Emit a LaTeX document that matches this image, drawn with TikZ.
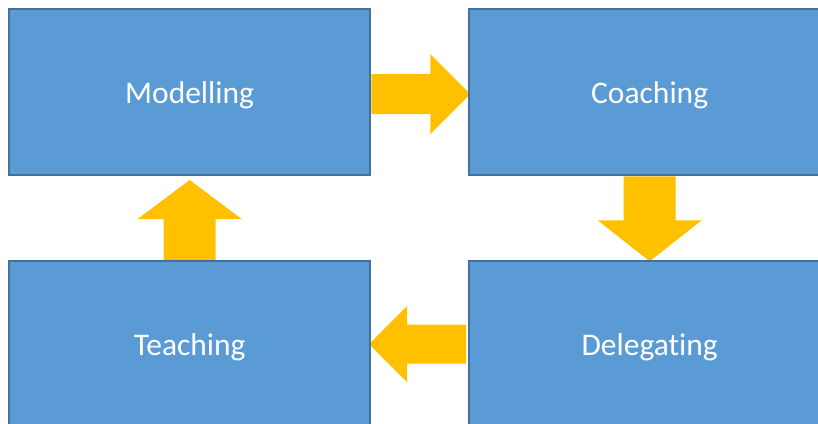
\documentclass[tikz,border=0pt]{standalone}
\usepackage{fontspec}
\setmainfont[Ligatures={NoCommon,NoRare,NoContextual}]{Carlito}
\usetikzlibrary{calc,backgrounds}
\definecolor{boxfill}{HTML}{5B9BD5}
\definecolor{boxline}{HTML}{41719C}
\definecolor{arrowfill}{HTML}{FFC000}
\newcommand{\stagetext}[1]{\raisebox{-3pt}[\height][\depth]{#1}}
\tikzset{
  stagebox/.style={draw=boxline, fill=boxfill, line width=2.3pt, rectangle,
    minimum width=361pt, minimum height=166pt, anchor=north west, inner sep=0pt,
    text=white, font=\fontsize{31.5}{36}\selectfont},
  blockarrow/.style={fill=arrowfill}
}
\begin{document}
\begin{tikzpicture}[x=1pt,y=-1pt]
\useasboundingbox (0,0) rectangle (818,423);
\clip (0,0) rectangle (818,423);
\node[stagebox] (m) at (8,8) {\stagetext{Modelling}};
\node[stagebox] (c) at (468,8) {\stagetext{Coaching}};
\node[stagebox] (t) at (8,260) {\stagetext{Teaching}};
\node[stagebox] (d) at (468,260) {\stagetext{Delegating}};
\begin{pgfonlayer}{background}
% Modelling -> Coaching
\coordinate (a1) at ($(m.east)+(0,2)$);
\fill[blockarrow] ($(a1)+(0,-20)$) -- ($(a1)+(59,-20)$) -- ($(a1)+(59,-40)$)
  -- ($(a1)+(99,0)$) -- ($(a1)+(59,40)$) -- ($(a1)+(59,20)$) -- ($(a1)+(0,20)$) -- cycle;
% Coaching -> Delegating
\coordinate (a2) at (c.south);
\fill[blockarrow] ($(a2)+(-26,0)$) -- ($(a2)+(26,0)$) -- ($(a2)+(26,44)$)
  -- ($(a2)+(52,44)$) -- ($(a2)+(0,85)$) -- ($(a2)+(-52,44)$) -- ($(a2)+(-26,44)$) -- cycle;
% Delegating -> Teaching
\coordinate (a3) at (d.west);
\fill[blockarrow] ($(a3)+(-2,-19.5)$) -- ($(a3)+(-2,19.5)$) -- ($(a3)+(-61,19.5)$)
  -- ($(a3)+(-61,38)$) -- ($(a3)+(-99,0)$) -- ($(a3)+(-61,-38)$) -- ($(a3)+(-61,-19.5)$) -- cycle;
% Teaching -> Modelling
\coordinate (a4) at (t.north);
\fill[blockarrow] ($(a4)+(-26,0)$) -- ($(a4)+(26,0)$) -- ($(a4)+(26,-41)$)
  -- ($(a4)+(52,-41)$) -- ($(a4)+(0,-80)$) -- ($(a4)+(-52,-41)$) -- ($(a4)+(-26,-41)$) -- cycle;
\end{pgfonlayer}
\end{tikzpicture}
\end{document}
